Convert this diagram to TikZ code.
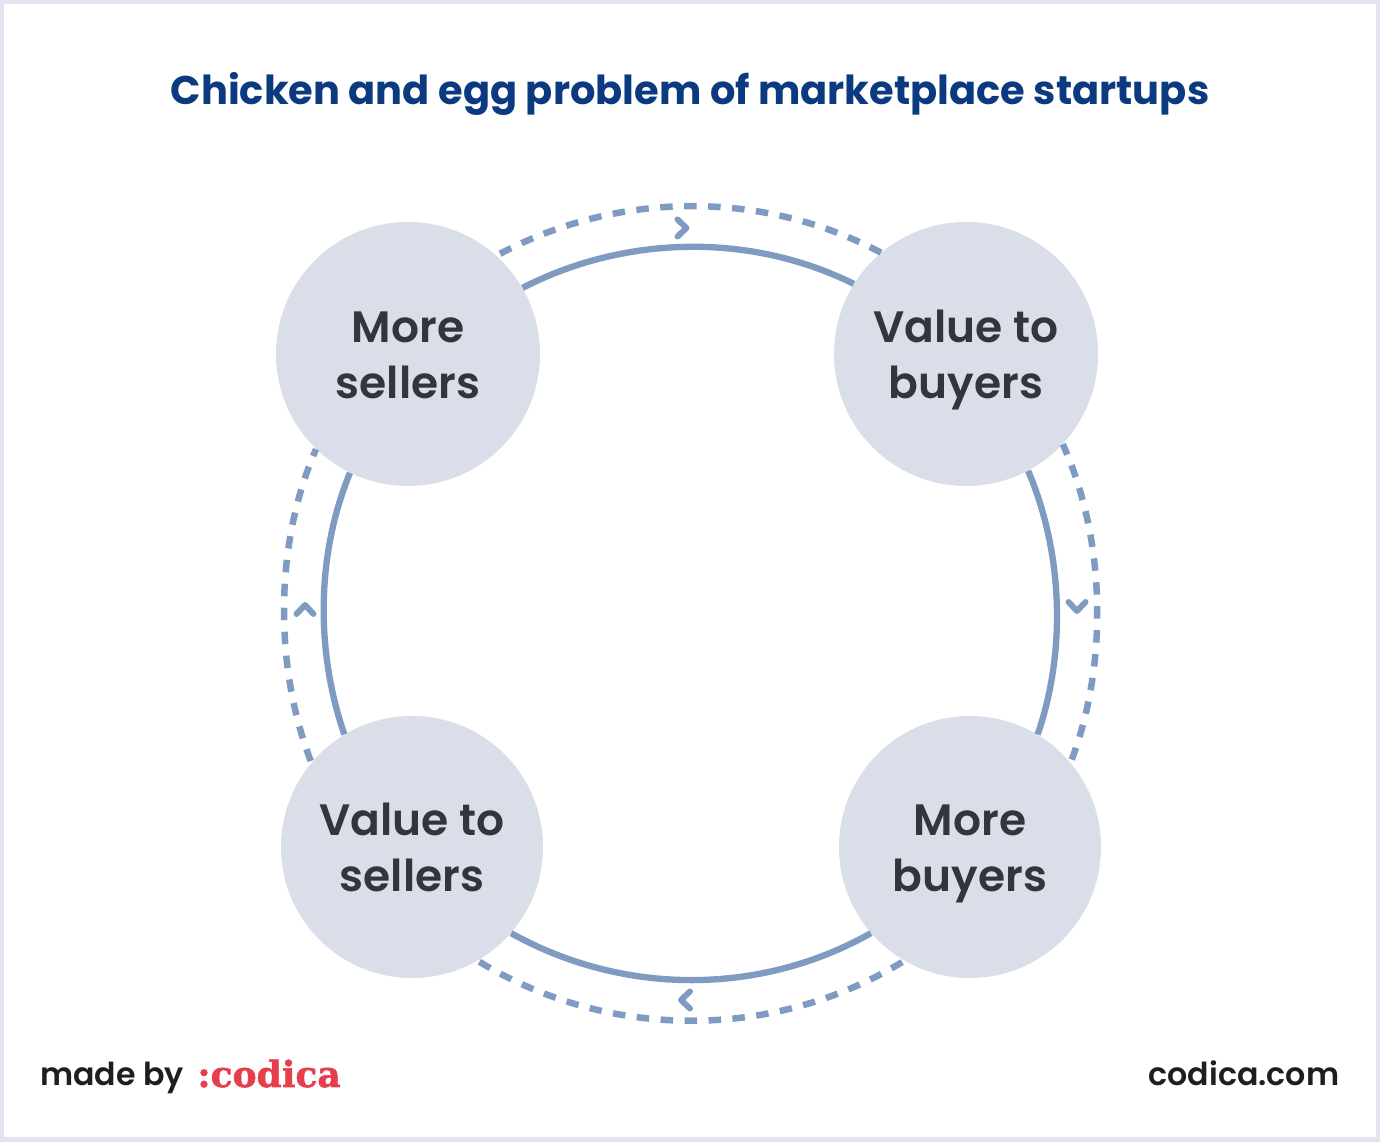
\documentclass[tikz,border=0pt]{standalone}
\usepackage{fontspec}
\setmainfont{Poppins}
\newfontfamily\semifont{Poppins SemiBold}
\newfontfamily\logofont[BoldFeatures={FakeBold=1.5}]{DejaVu Serif}
\definecolor{framecol}{HTML}{E3E3F0}
\definecolor{titlecol}{HTML}{0B3A80}
\definecolor{bubblecol}{HTML}{DADEE9}
\definecolor{loopcol}{HTML}{7F9BC2}
\definecolor{labelcol}{HTML}{33353B}
\definecolor{footcol}{HTML}{1E1E1E}
\definecolor{logocol}{HTML}{E63E4C}
\newcommand{\bublabel}[2]{\rule{0pt}{26.3pt}#1\\#2\rule[-8pt]{0pt}{8pt}}
\tikzset{
  bubble/.style={circle, fill=bubblecol, minimum size=5.28cm, inner sep=0pt, align=center,
    text=labelcol, font=\semifont\fontsize{25}{31.9}\selectfont},
  solidloop/.style={draw=loopcol, line width=3.6pt},
  dashloop/.style={draw=loopcol, line width=3.7pt, dash pattern=on 7.1pt off 6.55pt},
  foot/.style={text=footcol, font=\semifont\fontsize{18}{22}\selectfont, inner sep=0pt},
  pics/chevron/.style={code={
    \draw[draw=loopcol, line width=3.4pt, line cap=round, line join=round]
      (-0.18,0.17) -- (0,0) -- (-0.18,-0.17);
  }}
}
\begin{document}
\begin{tikzpicture}
  \fill[framecol] (0,0) rectangle (27.6,22.84);
  \fill[white] (0.08,0.09) rectangle (27.52,22.76);

  \node[text=titlecol, font=\bfseries\fontsize{22.75}{28}\selectfont] (title) at (13.8,20.96)
    {Chicken and egg problem of marketplace startups};

  \node[bubble] (sell) at (8.16,15.76) {\bublabel{More}{sellers}};
  \node[bubble] (vbuy) at (19.32,15.76) {\bublabel{Value to}{buyers}};
  \node[bubble, minimum size=5.24cm] (mbuy) at (19.40,5.90) {\bublabel{More}{buyers}};
  \node[bubble, minimum size=5.24cm] (vsell) at (8.24,5.90) {\bublabel{Value to}{sellers}};

  % inner ring
  \begin{scope}[solidloop]
    \draw (sell.30.2) to[out=27.2, in=153.6, looseness=0.89] (vbuy.148.7);
    \draw (vbuy.-62.1) to[out=-67, in=71, looseness=0.86] (mbuy.59.5);
    \draw (mbuy.221) to[out=209.5, in=-29.2, looseness=0.91] (vsell.-41.4);
    \draw (vsell.121.4) to[out=109.1, in=247.5, looseness=0.86] (sell.244.5);
  \end{scope}

  % outer ring
  \begin{scope}[dashloop]
    \draw[dash phase=11.4pt] (sell.48.4) to[out=28.5, in=152.1, looseness=0.90] (vbuy.130.3);
    \draw[dash phase=0.7pt] (vbuy.-43.7) to[out=-65.6, in=68.8, looseness=0.84] (mbuy.40.6);
    \draw[dash phase=12.2pt] (mbuy.240) to[out=211.6, in=-31.5, looseness=0.919] (vsell.-60.6);
    \draw[dash phase=12.66pt] (vsell.140.5) to[out=111.4, in=246.2, looseness=0.84] (sell.226.2);
  \end{scope}

  \pic at (13.73,18.28) {chevron};
  \pic[rotate=-90] at (21.54,10.62) {chevron};
  \pic[rotate=180] at (13.62,2.84) {chevron};
  \pic[rotate=90] at (6.10,10.74) {chevron};

  \node[foot, anchor=base west] (made) at (0.80,1.12) {made by};
  \node[text=logocol, anchor=base west, inner sep=0pt,
    font=\logofont\bfseries\fontsize{20.5}{24}\selectfont] (logo) at (3.94,1.10) {:codica};
  \node[foot, anchor=base east] (site) at (26.79,1.12) {codica.com};
\end{tikzpicture}
\end{document}
